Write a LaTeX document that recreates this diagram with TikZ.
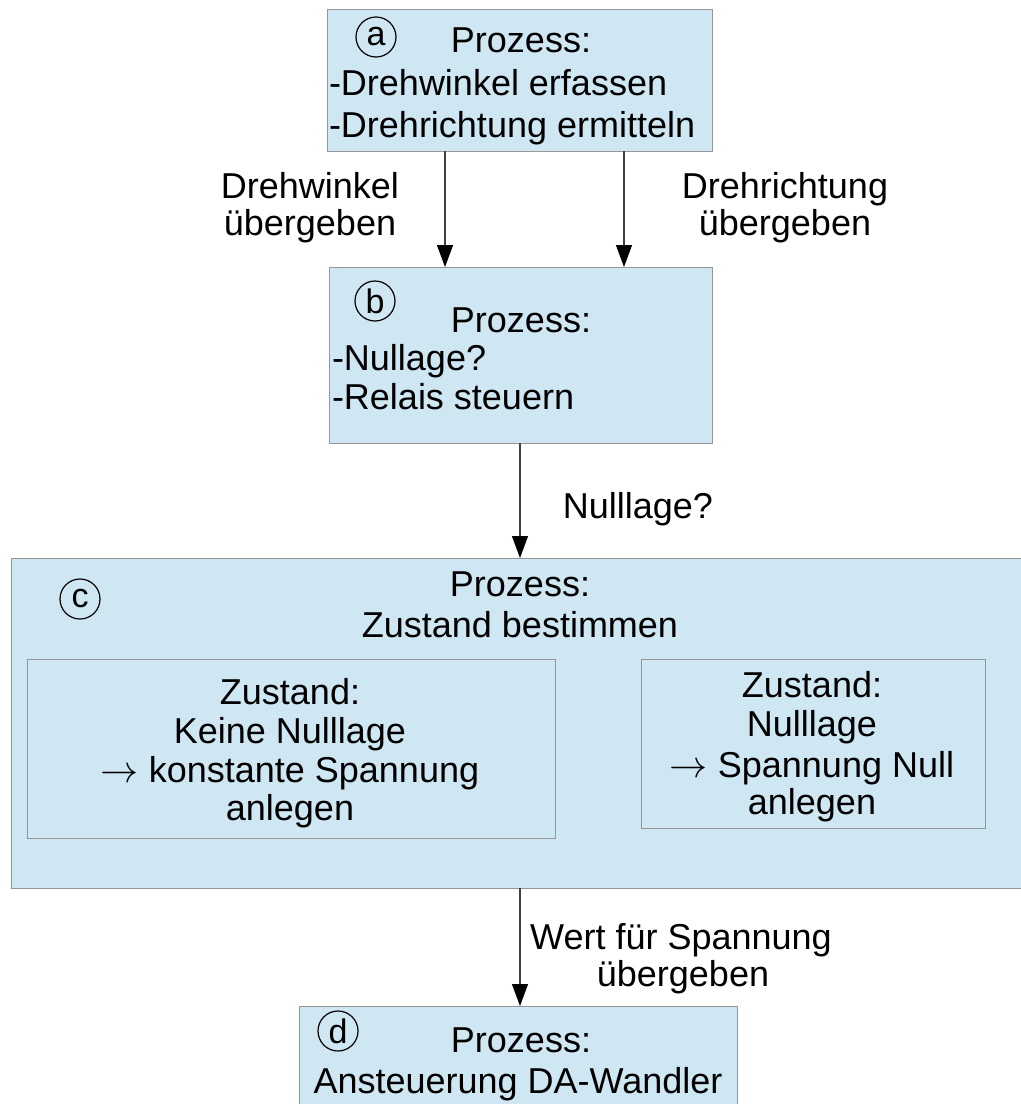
\documentclass[tikz,border=0pt]{standalone}
\usepackage{fontspec}
\setmainfont{Liberation Sans}
\usetikzlibrary{arrows.meta}
\definecolor{procfill}{RGB}{207,230,243}
\definecolor{procline}{RGB}{150,150,150}
\newcommand{\thenarrow}{\scalebox{1.1}{$\rightarrow$}}
\begin{document}
\begin{tikzpicture}[x=0.5pt,y=-0.5pt,
  every node/.style={font=\fontsize{18pt}{21pt}\selectfont, inner sep=0pt, outer sep=0pt},
  procbox/.style={draw=procline, fill=procfill, line width=0.5pt, rectangle},
  statebox/.style={draw=procline, line width=0.5pt, rectangle},
  mark circle/.style={draw=black, circle, line width=0.6pt, minimum size=20pt,
    font=\fontsize{17pt}{20pt}\selectfont},
  ctext/.style={anchor=base},
  ltext/.style={anchor=base west},
  flow/.style={draw=black!75, line width=0.6pt,
    -{Triangle[length=11pt,width=8pt,color=black]}}]
\useasboundingbox (0,0) rectangle (1021,1104);

% process boxes
\path[procbox] (327,9) rectangle (712,151);
\path[procbox] (329,267) rectangle (712,443);
\path[procbox] (11,558) rectangle (1030,888);
\path[procbox] (299,1006) rectangle (737,1120);
\coordinate (bN) at (520,267);
\coordinate (bS) at (520,443);
\coordinate (cN) at (520,558);
\coordinate (cS) at (520,888);
\coordinate (dN) at (520,1006);

% state boxes inside c
\path[statebox] (27,659) rectangle (555,838);
\path[statebox] (641,659) rectangle (985,828);

% markers
\node[mark circle] (ma) at (376,37) {a};
\node[mark circle] (mb) at (375,301) {b};
\node[mark circle] (mc) at (80,599) {c};
\node[mark circle] (md) at (338,1031) {d};

% box a text
\node[ctext] (a1) at (521,52) {Prozess:};
\node[ltext] (a2) at (329,95) {-Drehwinkel erfassen};
\node[ltext] (a3) at (329,137) {-Drehrichtung ermitteln};

% box b text
\node[ctext] (b1) at (521,332) {Prozess:};
\node[ltext] (b2) at (332,370) {-Nullage?};
\node[ltext] (b3) at (332,409) {-Relais steuern};

% box c text
\node[ctext] (c1) at (520,596) {Prozess:};
\node[ctext] (c2) at (520,637) {Zustand bestimmen};
\node[ctext] (l1) at (290,704) {Zustand:};
\node[ctext] (l2) at (290,743) {Keine Nulllage};
\node[ctext] (l3) at (290,782) {\thenarrow{} konstante Spannung};
\node[ctext] (l4) at (290,820) {anlegen};
\node[ctext] (r1) at (812,697) {Zustand:};
\node[ctext] (r2) at (812,736) {Nulllage};
\node[ctext] (r3) at (812,777) {\thenarrow{} Spannung Null};
\node[ctext] (r4) at (812,814) {anlegen};

% box d text
\node[ctext] (d1) at (521,1052) {Prozess:};
\node[ctext] (d2) at (518,1093) {Ansteuerung DA-Wandler};

% connectors
\coordinate (aL) at (445,151);
\coordinate (aR) at (624,151);
\draw[flow] (aL) -- (aL |- bN);
\draw[flow] (aR) -- (aR |- bN);
\draw[flow] (bS) -- (cN);
\draw[flow] (cS) -- (dN);

% connector labels
\node[ctext] (e1) at (310,198) {Drehwinkel};
\node[ctext] (e2) at (310,235) {übergeben};
\node[ctext] (e3) at (785,198) {Drehrichtung};
\node[ctext] (e4) at (785,235) {übergeben};
\node[ctext] (e5) at (638,518) {Nulllage?};
\node[ctext] (e6) at (681,949) {Wert für Spannung};
\node[ctext] (e7) at (683,986) {übergeben};
\end{tikzpicture}
\end{document}
